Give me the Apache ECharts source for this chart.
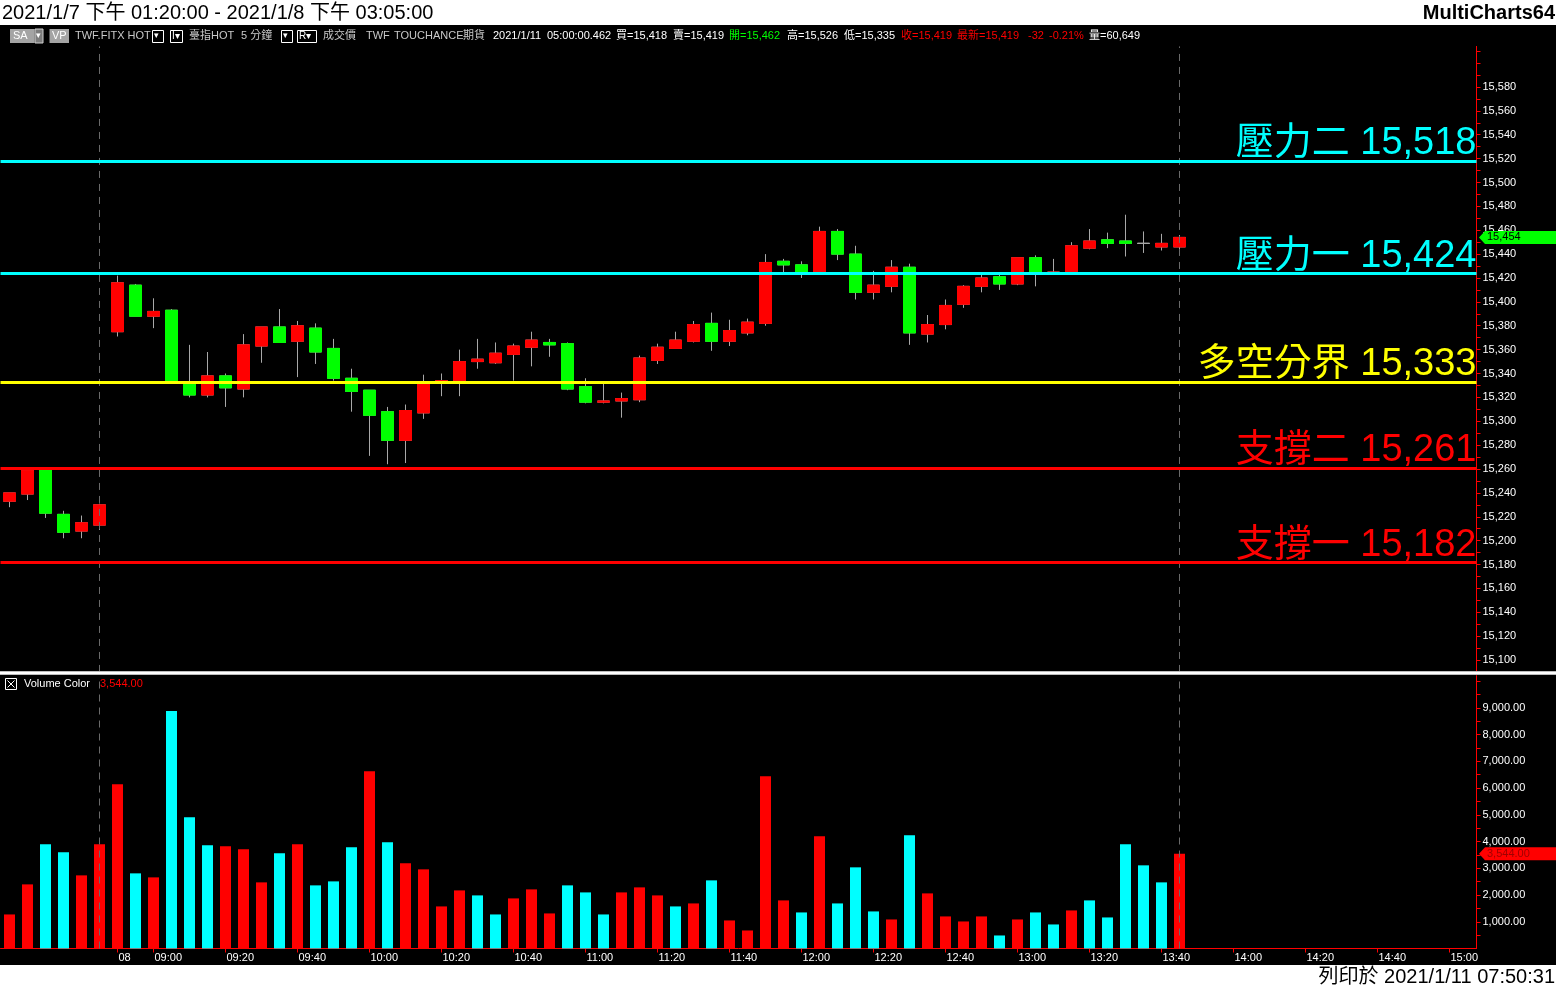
<!DOCTYPE html>
<html><head><meta charset="utf-8">
<script src="https://cdn.jsdelivr.net/npm/echarts@6/dist/echarts.min.js"></script>
<style>html,body{margin:0;padding:0;background:#000;overflow:hidden}#c{width:1556px;height:988px}</style>
</head><body><div id="c"></div>
<script>
const times = ['13:20','13:25','13:30','13:35','13:40','13:45',
'08:50','08:55','09:00','09:05','09:10','09:15','09:20','09:25','09:30','09:35','09:40','09:45','09:50','09:55',
'10:00','10:05','10:10','10:15','10:20','10:25','10:30','10:35','10:40','10:45','10:50','10:55',
'11:00','11:05','11:10','11:15','11:20','11:25','11:30','11:35','11:40','11:45','11:50','11:55',
'12:00','12:05','12:10','12:15','12:20','12:25','12:30','12:35','12:40','12:45','12:50','12:55',
'13:00','13:05','13:10','13:15','13:20','13:25','13:30','13:35','13:40','13:45',
'13:50','13:55','14:00','14:05','14:10','14:15','14:20','14:25','14:30','14:35','14:40','14:45','14:50','14:55','15:00','15:05'];
const openP  = [15233,15239,15259,15222,15208,15213,15375,15414,15388,15393,15333,15322,15338,15327,15363,15379,15367,15378,15361,15336,15326,15308,15284,15307,15333,15334,15350,15349,15356,15362,15366,15365,15329,15316,15317,15318,15351,15361,15367,15382,15367,15374,15382,15434,15431,15424,15459,15440,15408,15413,15429,15373,15381,15398,15413,15421,15415,15437,15424,15424,15445,15452,15451,15449,15446,15446];
const highP  = [15240,15261,15261,15225,15221,15231,15422,15415,15403,15394,15364,15358,15340,15373,15379,15394,15384,15382,15369,15344,15326,15312,15314,15339,15340,15360,15369,15366,15365,15375,15369,15366,15336,15332,15324,15355,15365,15375,15384,15391,15385,15386,15440,15436,15434,15463,15461,15447,15426,15435,15432,15389,15402,15414,15423,15423,15437,15439,15436,15450,15461,15458,15473,15459,15457,15456];
const lowP   = [15228,15234,15219,15202,15202,15209,15371,15388,15378,15332,15320,15320,15312,15320,15349,15366,15337,15348,15334,15308,15271,15264,15265,15302,15321,15321,15344,15348,15334,15346,15354,15326,15315,15315,15303,15316,15348,15361,15366,15359,15363,15372,15380,15425,15420,15423,15435,15402,15402,15408,15364,15366,15377,15395,15408,15410,15414,15413,15423,15423,15444,15445,15438,15441,15443,15444];
const closeP = [15240,15259,15223,15207,15215,15230,15416,15388,15392,15333,15322,15338,15328,15364,15379,15366,15380,15358,15336,15325,15305,15284,15309,15332,15334,15350,15352,15357,15363,15368,15364,15327,15316,15317,15319,15353,15362,15368,15381,15367,15376,15383,15433,15431,15424,15459,15440,15408,15414,15429,15374,15381,15397,15413,15420,15415,15437,15425,15425,15447,15451,15449,15449,15449,15449,15454];
const volume = [1273,2397,3895,3596,2734,3895,6142,2809,2659,8876,4906,3858,3820,3708,2472,3558,3895,2360,2509,3783,6629,3970,3184,2959,1573,2172,1985,1273,1873,2210,1311,2360,2097,1273,2097,2285,1985,1573,1685,2547,1049,674,6442,1798,1348,4195,1685,3034,1386,1086,4232,2060,1199,1011,1199,487,1086,1348,899,1423,1798,1161,3895,3109,2472,3544];
const volumeUp = [1,1,0,0,1,1,1,0,1,0,0,0,1,1,1,0,1,0,0,0,1,0,1,1,1,1,0,0,1,1,1,0,0,0,1,1,1,0,1,0,1,1,1,1,0,1,0,0,0,1,0,1,1,1,1,0,1,0,0,1,0,0,0,0,0,1];
const priceTicks = [15100,15120,15140,15160,15180,15200,15220,15240,15260,15280,15300,15320,15340,15360,15380,15400,15420,15440,15460,15480,15500,15520,15540,15560,15580];
const volumeTicks = [1000,2000,3000,4000,5000,6000,7000,8000,9000];
const levelNames = ['壓力二','壓力一','多空分界','支撐二','支撐一'];
const levelValues = [15518,15424,15333,15261,15182];
const sessionEndIdx = [5,65];
const lastPrice = 15454;
const lastVolume = 3544;

const RED='#ff0000', GREEN='#00ff00', CYAN='#00ffff', YELLOW='#ffff00', WICK='#a8a8a8';
const levelColors=[CYAN,CYAN,YELLOW,RED,RED];
const FONT="'Liberation Sans','Noto Sans CJK TC',sans-serif";
const fmt=v=>Number(v).toLocaleString('en-US');
const fmt2=v=>Number(v).toLocaleString('en-US',{minimumFractionDigits:2,maximumFractionDigits:2});

const wickData = openP.map((o,i)=>[o,closeP[i],lowP[i],highP[i]]);
const bodyData = openP.map((o,i)=>[o,closeP[i],Math.min(o,closeP[i]),Math.max(o,closeP[i])]);
const priceMinor=[]; for(let v=15090; v<=15610; v+=10) priceMinor.push(v);
const volMinor=[]; for(let v=500; v<=10000; v+=500) volMinor.push(v);

const showX=(idx,val)=> idx===6 || (idx>6 && /:(00|20|40)$/.test(val));

const chart = echarts.init(document.getElementById('c'), null, {renderer:'canvas'});
const option = {
  backgroundColor:'#000',
  animation:false,
  grid:[
    {left:0.5,right:79.5,top:46.41,height:625.53},
    {left:0.5,right:79.5,top:675.65,height:272.85}
  ],
  xAxis:[
    {type:'category',gridIndex:0,data:times,boundaryGap:true,axisLine:{show:false},axisTick:{show:false},axisLabel:{show:false},splitLine:{show:false}},
    {type:'category',gridIndex:1,data:times,boundaryGap:true,
     axisLine:{show:true,lineStyle:{color:RED,width:1}},
     axisTick:{show:true,alignWithLabel:true,interval:showX,length:4,lineStyle:{color:RED}},
     axisLabel:{show:true,interval:showX,color:'#fff',fontSize:11,fontFamily:FONT,align:'left',margin:4,padding:[0,0,0,1],
       formatter:(v,i)=> i===6?'08':v},
     splitLine:{show:false}}
  ],
  yAxis:[
    {type:'value',gridIndex:0,position:'right',min:15090,max:15614,
     axisLine:{show:true,lineStyle:{color:RED,width:1}},
     axisTick:{show:true,length:4,customValues:priceMinor,lineStyle:{color:RED}},
     axisLabel:{show:true,customValues:priceTicks,color:'#fff',fontSize:11,fontFamily:FONT,margin:6,formatter:v=>fmt(v)},
     splitLine:{show:false}},
    {type:'value',gridIndex:1,position:'right',min:0,max:10200,
     axisLine:{show:true,lineStyle:{color:RED,width:1}},
     axisTick:{show:true,length:4,customValues:volMinor,lineStyle:{color:RED}},
     axisLabel:{show:true,customValues:volumeTicks,color:'#fff',fontSize:11,fontFamily:FONT,margin:6,formatter:v=>fmt2(v)},
     splitLine:{show:false}}
  ],
  series:[
    {type:'candlestick',name:'wick',xAxisIndex:0,yAxisIndex:0,data:wickData,barWidth:12,
     itemStyle:{color:RED,color0:GREEN,borderColor:WICK,borderColor0:WICK,borderColorDoji:WICK,borderWidth:1},
     markLine:{silent:true,symbol:['none','none'],
       data:sessionEndIdx.map(i=>({xAxis:i})),
       lineStyle:{color:'#6a6a6a',type:[7,6],width:1},label:{show:false}}
    },
    {type:'candlestick',name:'body',xAxisIndex:0,yAxisIndex:0,data:bodyData,barWidth:12,
     itemStyle:{color:RED,color0:GREEN,borderColor:RED,borderColor0:GREEN,borderColorDoji:WICK,borderWidth:1},
     markLine:{silent:true,symbol:['none','none'],precision:0,
       lineStyle:{width:3,type:'solid'},
       data:levelValues.map((v,i)=>({name:levelNames[i],yAxis:v,
         lineStyle:{color:levelColors[i],width:3,type:'solid'},
         label:{show:true,position:'insideEndTop',distance:[0,-2],color:levelColors[i],fontSize:38,fontFamily:FONT,
           formatter:p=>p.name+' '+fmt(p.value)}}))}
    },
    {type:'bar',name:'Volume',xAxisIndex:1,yAxisIndex:1,barWidth:11,
     data:volume.map((v,i)=>({value:v,itemStyle:{color:volumeUp[i]?RED:CYAN}})),
     markLine:{silent:true,symbol:['none','none'],
       data:sessionEndIdx.map(i=>({xAxis:i})),
       lineStyle:{color:'#6a6a6a',type:[7,6],width:1},label:{show:false}}
    }
  ]
};
chart.setOption(option);

function txt(t,x,y,fill,size,extra,z){
  return {type:'text',z:z||100,style:{text:t,x:x,y:y,fill:fill,font:(extra||'')+' '+size+'px '+FONT,
    textVerticalAlign:'middle',verticalAlign:'middle',textAlign:'left',align:'left'}};
}
function txtR(t,x,y,fill,size,extra){
  const o=txt(t,x,y,fill,size,extra); o.style.textAlign='right'; o.style.align='right'; return o;
}
function box(x,y,w,h,fill,stroke){
  return {type:'rect',z:100,shape:{x:x,y:y,width:w,height:h},style:{fill:fill,stroke:stroke||null,lineWidth:1}};
}
const py = chart.convertToPixel({yAxisIndex:0}, lastPrice);
const vy = chart.convertToPixel({yAxisIndex:1}, lastVolume);
const HY=36;
const GREY='#c8c8c8';
const graphics=[
  box(0,0,1556,25,'#fff'),
  txt('2021/1/7 下午 01:20:00 - 2021/1/8 下午 03:05:00',2,13,'#000',20),
  txtR('MultiCharts64',1555,13,'#000',20,'bold'),
  box(0,965,1556,23,'#fff'),
  txtR('列印於 2021/1/11 07:50:31',1555,977,'#000',20),
  box(0,671,1556,4,'#bcbcbc'),
  box(0,672,1556,2,'#ffffff'),
  box(10,29,24.5,14,'#a4a4a4'), txt('SA',13,HY,'#fff',11),
  box(35,29,8,14,'#7c7c7c','#cfcfcf'), txt('▾',36,HY,'#fff',9),
  box(49.5,29,19.5,14,'#a4a4a4'), txt('VP',52,HY,'#fff',11),
  txt('TWF.FITX HOT',75,HY,GREY,11),
  box(152.5,30.5,11,12,'#000','#fff'), txt('▾',154,HY,'#fff',9),
  box(170.5,30.5,12,12,'#000','#fff'), txt('I▾',172,HY,'#fff',10),
  txt('臺指HOT',189,HY,GREY,11), txt('5 分鐘',241,HY,GREY,11),
  box(281.5,30.5,11,12,'#000','#fff'), txt('▾',283,HY,'#fff',9),
  box(297.5,30.5,19,12,'#000','#fff'), txt('R▾',299,HY,'#fff',10),
  txt('成交價',323,HY,GREY,11), txt('TWF',366,HY,GREY,11), txt('TOUCHANCE',394,HY,GREY,11), txt('期貨',463,HY,GREY,11),
  txt('2021/1/11',493,HY,'#fff',11), txt('05:00:00.462',547,HY,'#fff',11),
  txt('買=15,418',616,HY,'#fff',11), txt('賣=15,419',673,HY,'#fff',11),
  txt('開=15,462',729,HY,GREEN,11), txt('高=15,526',787,HY,'#fff',11), txt('低=15,335',844,HY,'#fff',11),
  txt('收=15,419',901,HY,RED,11), txt('最新=15,419',957,HY,RED,11), txt('-32',1028,HY,RED,11), txt('-0.21%',1049,HY,RED,11),
  txt('量=60,649',1089,HY,'#fff',11),
  box(5.5,678.5,11,11,'#000','#fff'),
  {type:'polyline',z:100,shape:{points:[[7.5,680.5],[14.5,687.5]]},style:{stroke:'#fff',lineWidth:1}},
  {type:'polyline',z:100,shape:{points:[[14.5,680.5],[7.5,687.5]]},style:{stroke:'#fff',lineWidth:1}},
  txt('Volume Color',24,684,'#fff',11), txt(fmt2(lastVolume),100,684,RED,11),
  {type:'polygon',z:110,shape:{points:[[1479,py],[1485,py-6.5],[1556,py-6.5],[1556,py+6.5],[1485,py+6.5]]},style:{fill:GREEN}},
  txt(fmt(lastPrice),1487,py,'#000',11,'',120),
  {type:'polygon',z:110,shape:{points:[[1479,vy],[1485,vy-6.5],[1556,vy-6.5],[1556,vy+6.5],[1485,vy+6.5]]},style:{fill:RED}},
  txt(fmt2(lastVolume),1487,vy,'#a00000',11,'',120)
];
chart.setOption({graphic:graphics});
</script></body></html>
